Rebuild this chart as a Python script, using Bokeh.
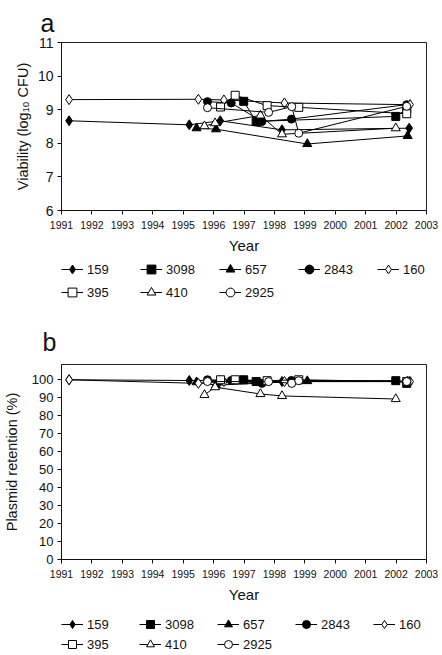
from bokeh.plotting import figure
from bokeh.models import Legend, LegendItem, FixedTicker, Range1d, Title
from bokeh.layouts import column
from bokeh.embed import file_html
from bokeh.resources import INLINE

FONT = "Liberation Sans"

# ---- data ----
strains = ["159", "3098", "657", "2843", "160", "395", "410", "2925"]
markers = ["diamond", "square", "triangle", "circle", "diamond", "square", "triangle", "circle"]
filled = [True, True, True, True, False, False, False, False]

years = {
    "159":  [1991.25, 1995.2, 1996.22, 1998.25, 2002.43],
    "3098": [1996.99, 1997.4, 2001.99, 2002.35],
    "657":  [1995.44, 1996.08, 1999.08, 2002.38],
    "2843": [1995.8, 1996.58, 1997.59, 1998.56, 2002.35],
    "160":  [1991.25, 1995.5, 1996.34, 1998.33, 2002.46],
    "395":  [1996.23, 1996.71, 1997.76, 1998.8, 2002.35],
    "410":  [1995.7, 1996.05, 1997.54, 1998.25, 2001.99],
    "2925": [1995.8, 1997.81, 1998.57, 1998.8, 2002.35],
}
viability = {
    "159":  [8.67, 8.55, 8.67, 8.40, 8.45],
    "3098": [9.25, 8.65, 8.80, 9.02],
    "657":  [8.45, 8.42, 7.98, 8.22],
    "2843": [9.24, 9.20, 8.65, 8.72, 9.15],
    "160":  [9.30, 9.31, 9.29, 9.20, 9.15],
    "395":  [9.08, 9.43, 9.12, 9.07, 8.88],
    "410":  [8.51, 8.60, 8.83, 8.27, 8.45],
    "2925": [9.06, 8.92, 9.09, 8.30, 9.10],
}
retention = {
    "159":  [100, 99.6, 99.5, 99.0, 99.0],
    "3098": [100, 99.0, 99.5, 98.0],
    "657":  [98.7, 97.0, 99.3, 99.0],
    "2843": [100, 99.6, 98.0, 99.6, 99.3],
    "160":  [100, 98.0, 99.0, 99.0, 99.0],
    "395":  [100, 100, 99.5, 100, 99.0],
    "410":  [91.6, 95.9, 92.1, 91.0, 89.3],
    "2925": [99.0, 99.0, 98.0, 99.5, 99.0],
}
year_ticks = list(range(1991, 2004))
via_ticks = [6, 7, 8, 9, 10, 11]
ret_ticks = [0, 10, 20, 30, 40, 50, 60, 70, 80, 90, 100]

W = 442


def marker_size(m):
    return 10 if m == "diamond" else (9 if m == "triangle" else 8)


def add_series(p, values):
    pairs = []
    for s, m, f in zip(strains, markers, filled):
        ln = p.line(years[s], values[s], line_color="black", line_width=1)
        sc = p.scatter(years[s], values[s], marker=m, size=marker_size(m),
                       fill_color="black" if f else "white",
                       line_color="black", line_width=1)
        pairs.append((s, ln, sc))
    return pairs


def make_panel(letter, values, ylabel, yrange, yticks, height, mb_left, mb_top, mb_bottom,
               ytick_size, title_standoff, title_offset, ylabel_standoff):
    p = figure(width=W, height=height, output_backend="svg", toolbar_location=None,
               x_range=Range1d(1991, 2003), y_range=Range1d(*yrange),
               min_border_left=mb_left, min_border_right=W - 426, min_border_top=mb_top,
               min_border_bottom=mb_bottom)
    p.title.visible = False
    t = Title(text=letter, align="left", offset=title_offset, standoff=title_standoff,
              text_font=FONT, text_font_size="25px", text_font_style="normal",
              text_color="#111111")
    p.add_layout(t, "above")
    p.grid.visible = False
    p.outline_line_color = "#222222"
    p.outline_line_width = 1
    for ax in (p.xaxis, p.yaxis):
        ax.axis_line_color = "#111111"
        ax.major_tick_line_color = "#111111"
        ax.minor_tick_line_color = None
        ax.major_tick_in = 0
        ax.major_tick_out = 4
        ax.major_label_text_font = FONT
        ax.axis_label_text_font = FONT
        ax.axis_label_text_font_style = "normal"
        ax.major_label_text_color = "#111111"
        ax.axis_label_text_color = "#111111"
    p.xaxis.ticker = FixedTicker(ticks=year_ticks)
    p.yaxis.ticker = FixedTicker(ticks=yticks)
    p.xaxis.major_label_text_font_size = "10.5px"
    p.xaxis.major_label_standoff = 6
    p.yaxis.major_label_standoff = 4
    p.yaxis.major_label_text_font_size = ytick_size
    p.xaxis.axis_label = "Year"
    p.xaxis.axis_label_text_font_size = "15px"
    p.xaxis.axis_label_standoff = 5
    p.yaxis.axis_label = ylabel
    p.yaxis.axis_label_text_font_size = "14.5px"
    p.yaxis.axis_label_standoff = ylabel_standoff
    add_series(p, values)
    return p


def make_legend(values, height, mb_left, mb_top, glyph_h, spacing, label_w):
    # legend-only figure: series drawn outside the visible range, only the legend shows
    q = figure(width=W, height=height, output_backend="svg", toolbar_location=None,
               x_axis_type=None, y_axis_type=None,
               min_border_left=mb_left, min_border_top=mb_top,
               min_border_right=0, min_border_bottom=0,
               x_range=Range1d(1991, 2003), y_range=Range1d(1000, 1001))
    q.title.visible = False
    q.grid.visible = False
    q.outline_line_color = None
    pairs = add_series(q, values)
    items = [LegendItem(label=s, renderers=[ln, sc]) for s, ln, sc in pairs]
    leg = Legend(items=items, location="top_left", orientation="horizontal", ncols=5,
                 glyph_width=22, glyph_height=glyph_h, label_width=label_w,
                 label_height=glyph_h, label_standoff=4, spacing=spacing,
                 padding=0, margin=0, border_line_color=None,
                 background_fill_alpha=0,
                 label_text_font=FONT, label_text_font_size="13px",
                 label_text_color="#111111")
    q.add_layout(leg, "center")
    return q


pa = make_panel("a", viability, "Viability (log\u2081\u2080 CFU)", (6, 11), via_ticks,
                258, 61, 42, 48, "14px", 11, -21, 4)
la = make_legend(viability, 46, 31, 0, 22, 1, 52)
pb = make_panel("b", retention, "Plasmid retention (%)", (0, 108.5), ret_ticks,
                303, 58, 60, 48, "13px", 17, -19, 9)
lb = make_legend(retention, 48, 30, 7, 20, 0, 52)

layout = column(pa, la, pb, lb, spacing=0)
open("out.html", "w").write(file_html(layout, INLINE))
